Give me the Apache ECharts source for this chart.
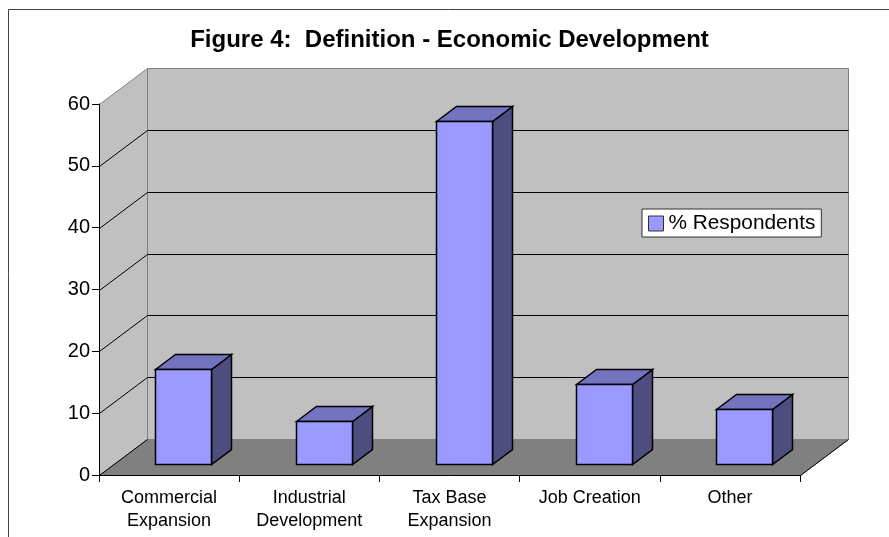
<!DOCTYPE html>
<html>
<head>
<meta charset="utf-8">
<style>html,body{margin:0;padding:0;background:#fff}#c{width:889px;height:537px}</style>
<script src="https://cdn.jsdelivr.net/npm/echarts@6/dist/echarts.min.js"></script>
</head>
<body>
<div id="c"></div>
<script>
var titleText = 'Figure 4:  Definition - Economic Development';
var seriesName = '% Respondents';
var categories = ['Commercial\nExpansion', 'Industrial\nDevelopment', 'Tax Base\nExpansion', 'Job Creation', 'Other'];
var respondents = [15.4, 7.0, 55.5, 13, 8.9];
var yTicks = [0, 10, 20, 30, 40, 50, 60];

var FONT = '"Liberation Sans", Arial, sans-serif';
var DX = 48, DY = -36;                // depth of the chart box
var BAR_DX = 14.3, BAR_DY = -11;      // bars stand inside the box
var BAR_DEPTH_X = 20, BAR_DEPTH_Y = -15;
var BAR_RATIO = 0.4;

function line(x1, y1, x2, y2, color) {
  return { type: 'line', shape: { x1: x1, y1: y1, x2: x2, y2: y2 }, style: { stroke: color, lineWidth: 1, fill: null } };
}
function poly(points, fill, stroke, w) {
  return { type: 'polygon', shape: { points: points }, style: { fill: fill, stroke: stroke, lineWidth: w || 1, lineJoin: 'miter' } };
}

function renderBox(params, api) {
  var cs = params.coordSys;
  var l = cs.x + 0.5, r = cs.x + cs.width + 0.5;
  var t = cs.y + 0.5, b = cs.y + cs.height + 0.5;
  var kids = [
    poly([[l + DX, t + DY], [r + DX, t + DY], [r + DX, b + DY], [l + DX, b + DY]], '#C0C0C0', '#808080'),
    poly([[l, t], [l + DX, t + DY], [l + DX, b + DY], [l, b]], '#C0C0C0', '#808080'),
    poly([[l, b], [l + DX, b + DY], [r + DX, b + DY], [r, b]], '#808080', '#808080')
  ];
  yTicks.forEach(function (v) {
    if (v === yTicks[0] || v === yTicks[yTicks.length - 1]) return;
    var y = Math.round(api.coord([0, v])[1]) + 0.5;
    kids.push(line(l, y, l + DX, y + DY, '#000'));
    kids.push(line(l + DX, y + DY, r + DX, y + DY, '#000'));
  });
  kids.push(line(l, b, l + DX, b + DY, '#000'));
  kids.push(line(r, b, r + DX, b + DY, '#000'));
  return { type: 'group', children: kids };
}

function renderBar(params, api) {
  var p = api.coord([api.value(0), api.value(1)]);
  var base = api.coord([api.value(0), 0]);
  var w = Math.round(api.size([1, 0])[0] * BAR_RATIO);
  var x0 = Math.round(p[0] + BAR_DX - w / 2) + 0.5;
  var x1 = x0 + w;
  var yT = Math.round(p[1] + BAR_DY) + 0.5;
  var yB = Math.round(base[1] + BAR_DY) + 0.5;
  var dx = BAR_DEPTH_X, dy = BAR_DEPTH_Y;
  return {
    type: 'group',
    children: [
      poly([[x1, yT], [x1 + dx, yT + dy], [x1 + dx, yB + dy], [x1, yB]], '#4D4D80', '#000', 1.5),
      poly([[x0, yT], [x0 + dx, yT + dy], [x1 + dx, yT + dy], [x1, yT]], '#7373BF', '#000', 1.5),
      poly([[x0, yT], [x1, yT], [x1, yB], [x0, yB]], '#9999FF', '#000', 1.5)
    ]
  };
}

var chart = echarts.init(document.getElementById('c'), null, { renderer: 'canvas' });
chart.setOption({
  animation: false,
  backgroundColor: '#fff',
  textStyle: { fontFamily: FONT },
  title: {
    text: titleText, left: 444.5, top: 23, textAlign: 'center',
    textStyle: { fontFamily: FONT, fontWeight: 'bold', fontSize: 24, color: '#000' }
  },
  legend: {
    left: 642, top: 209, padding: [4, 6, 3, 6], orient: 'horizontal',
    backgroundColor: '#fff', borderColor: '#333', borderWidth: 1, borderRadius: 0,
    itemWidth: 15, itemHeight: 15, itemGap: 0,
    textStyle: { fontFamily: FONT, fontSize: 20.8, color: '#000', padding: [0, 0, 0, 0] },
    data: [{ name: seriesName, icon: 'rect', itemStyle: { color: '#9999FF', borderColor: '#333', borderWidth: 1 } }]
  },
  grid: { left: 99, top: 104, width: 701, height: 371 },
  xAxis: {
    type: 'category', data: categories, boundaryGap: true, z: 5,
    axisLine: { lineStyle: { color: '#000', width: 1 } },
    axisTick: { show: true, alignWithLabel: false, length: 7, lineStyle: { color: '#000' } },
    axisLabel: { fontFamily: FONT, fontSize: 18, color: '#000', lineHeight: 23, margin: 12, interval: 0 },
    splitLine: { show: false }
  },
  yAxis: {
    type: 'value', min: 0, max: 60, interval: 10, z: 5,
    axisLine: { show: true, lineStyle: { color: '#000', width: 1 } },
    axisTick: { show: true, length: 7, lineStyle: { color: '#000' } },
    axisLabel: { fontFamily: FONT, fontSize: 20, color: '#000', margin: 9 },
    splitLine: { show: false }
  },
  graphic: [
    { type: 'line', shape: { x1: 8.5, y1: 9.5, x2: 889, y2: 9.5 }, style: { stroke: '#444', lineWidth: 1 } },
    { type: 'line', shape: { x1: 8.5, y1: 9.5, x2: 8.5, y2: 537 }, style: { stroke: '#444', lineWidth: 1 } }
  ],
  series: [
    { type: 'custom', name: 'box', renderItem: renderBox, data: [[0, 0]], z: 1, silent: true, legendHoverLink: false },
    {
      type: 'custom', name: seriesName, renderItem: renderBar, z: 3,
      itemStyle: { color: '#9999FF' },
      encode: { x: 0, y: 1 },
      data: respondents.map(function (v, i) { return [i, v]; })
    }
  ]
});
</script>
</body>
</html>
